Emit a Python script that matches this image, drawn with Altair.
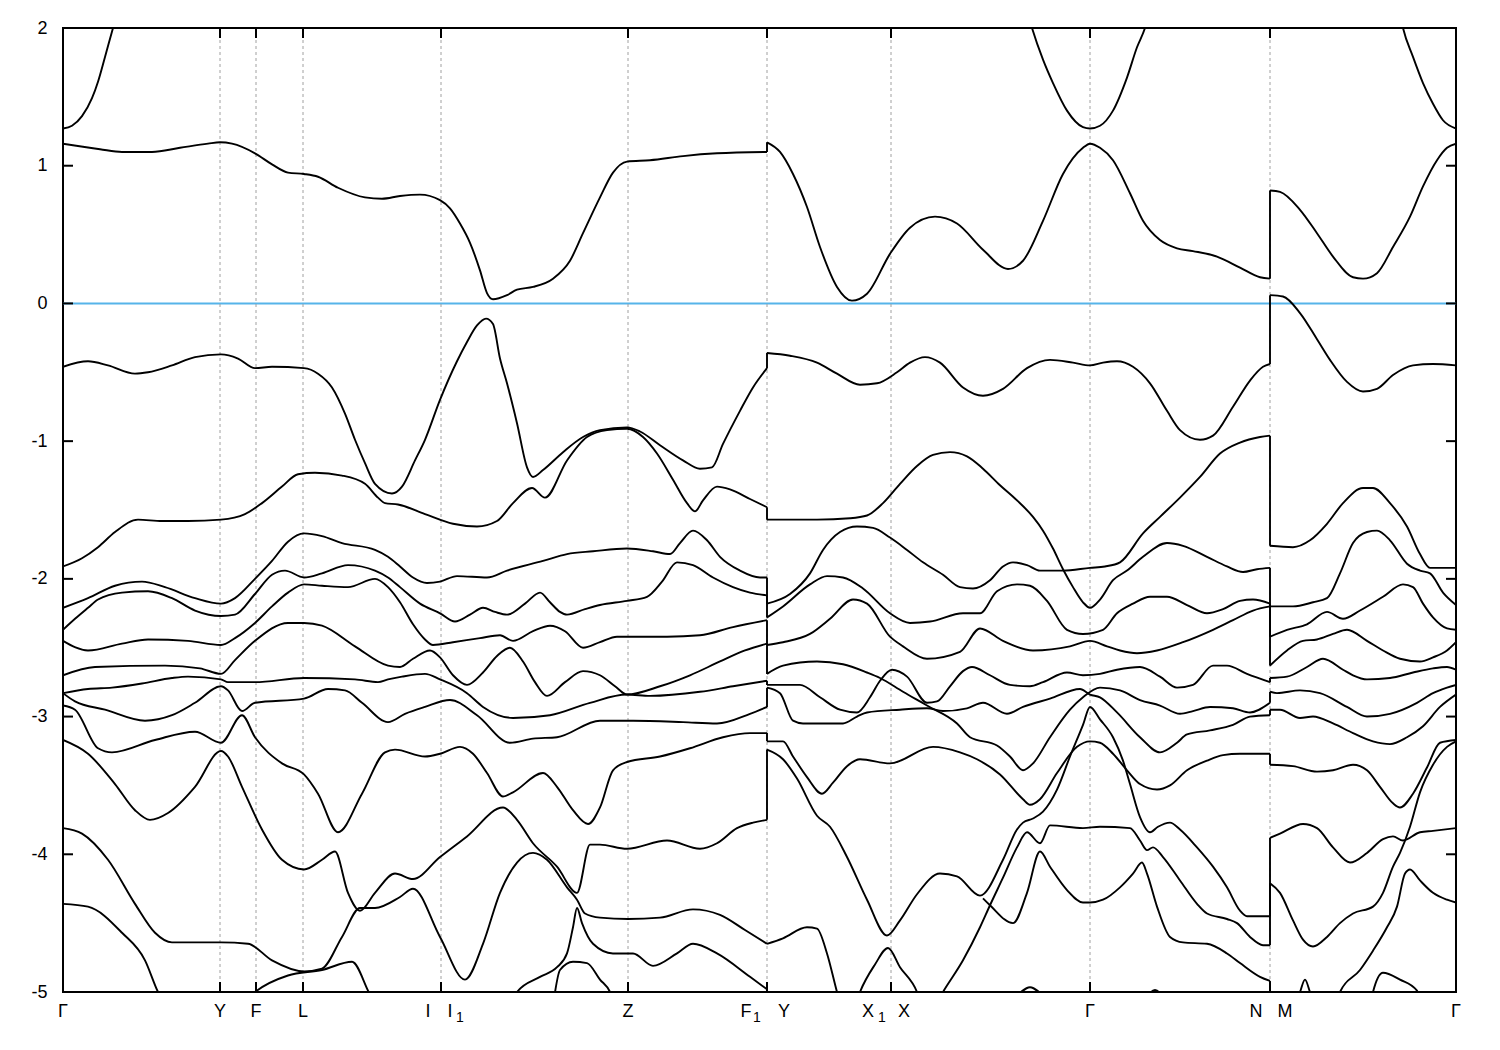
import altair as alt
import pandas as pd

W, H = 1393, 964
K_MAX = 13.93
E_MIN, E_MAX = -5, 2

HS_K = [0.0, 1.57, 1.93, 2.40, 3.78, 5.65, 7.04, 8.28, 10.27, 12.07, 13.93]
BREAKS = [7.04, 12.07]
Y_TICKS = [2, 1, 0, -1, -2, -3, -4, -5]

LBL_TEXT = ["Γ", "Y", "F", "L", "I", "I", "Z", "F", "Y", "X", "X", "Γ", "N", "M", "Γ"]
LBL_K = [0.0, 1.57, 1.93, 2.40, 3.65, 3.87, 5.65, 6.83, 7.21, 8.05, 8.41, 10.27, 11.93, 12.22, 13.93]
SUB_TEXT = ["1", "1", "1"]
SUB_K = [3.97, 6.94, 8.19]

# ---------------- segment Γ-Y-F-L-I|I1-Z-F1 ----------------
A_CB = [(0, 1.16), (0.37, 1.12), (0.59, 1.10), (0.89, 1.10), (1.17, 1.13), (1.45, 1.16), (1.57, 1.17), (1.69, 1.16),
        (1.92, 1.09), (2.09, 1.01), (2.25, 0.95), (2.41, 0.94), (2.55, 0.92), (2.75, 0.84), (3.02, 0.77), (3.19, 0.76),
        (3.37, 0.78), (3.57, 0.79), (3.77, 0.75), (3.87, 0.69), (3.97, 0.58), (4.07, 0.44), (4.17, 0.24), (4.24, 0.075),
        (4.30, 0.03), (4.44, 0.06), (4.54, 0.10), (4.70, 0.12), (4.90, 0.18), (5.07, 0.31), (5.20, 0.51), (5.37, 0.77),
        (5.50, 0.95), (5.64, 1.03), (5.87, 1.04), (6.20, 1.07), (6.54, 1.09), (7.04, 1.10)]
A_C1 = [(0, 1.27), (0.09, 1.29), (0.19, 1.36), (0.29, 1.49), (0.35, 1.61), (0.42, 1.79), (0.50, 2.0), (0.54, 2.1)]
A_VB1 = [(0, -0.46), (0.25, -0.42), (0.45, -0.45), (0.72, -0.51), (0.85, -0.50), (1.09, -0.45), (1.32, -0.39),
         (1.58, -0.37), (1.75, -0.40), (1.92, -0.47), (2.09, -0.46), (2.41, -0.47), (2.55, -0.51), (2.69, -0.61),
         (2.82, -0.80), (2.92, -0.99), (3.02, -1.16), (3.12, -1.31), (3.29, -1.38), (3.39, -1.33), (3.52, -1.14),
         (3.62, -0.99), (3.77, -0.70), (3.94, -0.42), (4.04, -0.28), (4.14, -0.16), (4.23, -0.11), (4.30, -0.15),
         (4.37, -0.40), (4.44, -0.58), (4.54, -0.87), (4.64, -1.19), (4.70, -1.26), (4.80, -1.21), (5.00, -1.08),
         (5.20, -0.97), (5.37, -0.92), (5.64, -0.90), (5.77, -0.93), (5.97, -1.03), (6.20, -1.14), (6.37, -1.20),
         (6.49, -1.19), (6.60, -1.02), (6.77, -0.78), (6.90, -0.61), (7.04, -0.47)]
A_VB2 = [(0, -1.91), (0.19, -1.85), (0.35, -1.77), (0.52, -1.66), (0.75, -1.57), (0.99, -1.58), (1.25, -1.58),
         (1.58, -1.57), (1.82, -1.53), (1.99, -1.45), (2.19, -1.33), (2.35, -1.24), (2.52, -1.23), (2.79, -1.25),
         (3.02, -1.31), (3.15, -1.41), (3.22, -1.45), (3.35, -1.46), (3.62, -1.53), (3.90, -1.60), (4.14, -1.62),
         (4.34, -1.58), (4.50, -1.45), (4.69, -1.34), (4.82, -1.41), (5.04, -1.14), (5.24, -0.97), (5.44, -0.92),
         (5.64, -0.91), (5.80, -0.97), (5.94, -1.09), (6.10, -1.28), (6.24, -1.45), (6.32, -1.51), (6.40, -1.43),
         (6.54, -1.33), (6.67, -1.35), (6.87, -1.42), (7.04, -1.48)]
A_3 = [(0, -2.21), (0.25, -2.14), (0.52, -2.05), (0.79, -2.02), (1.02, -2.06), (1.32, -2.14), (1.58, -2.18),
       (1.72, -2.14), (1.92, -2.00), (2.09, -1.87), (2.25, -1.73), (2.41, -1.67), (2.59, -1.69), (2.79, -1.74),
       (3.12, -1.79), (3.25, -1.84), (3.37, -1.91), (3.50, -1.99), (3.64, -2.03), (3.77, -2.02), (3.94, -1.98),
       (4.24, -1.99), (4.44, -1.94), (4.80, -1.87), (5.04, -1.82), (5.30, -1.80), (5.64, -1.78), (5.90, -1.80),
       (6.07, -1.82), (6.17, -1.74), (6.30, -1.65), (6.44, -1.72), (6.57, -1.84), (6.77, -1.94), (6.97, -1.99),
       (7.04, -1.99)]
A_4 = [(0, -2.37), (0.12, -2.29), (0.25, -2.21), (0.35, -2.15), (0.59, -2.10), (0.85, -2.09), (1.09, -2.14),
       (1.32, -2.23), (1.58, -2.27), (1.72, -2.26), (1.92, -2.11), (2.09, -1.97), (2.22, -1.94), (2.41, -1.99),
       (2.59, -1.96), (2.85, -1.90), (3.12, -1.94), (3.25, -1.99), (3.37, -2.06), (3.57, -2.18), (3.77, -2.25),
       (3.92, -2.31), (4.07, -2.26), (4.20, -2.21), (4.32, -2.24), (4.44, -2.26), (4.62, -2.18), (4.77, -2.10),
       (4.87, -2.17), (4.97, -2.24), (5.04, -2.26), (5.22, -2.22), (5.37, -2.19), (5.64, -2.16), (5.84, -2.13),
       (5.99, -2.02), (6.14, -1.88), (6.30, -1.90), (6.50, -1.99), (6.70, -2.06), (6.87, -2.10), (7.04, -2.12)]
A_5 = [(0, -2.45), (0.25, -2.52), (0.59, -2.47), (0.85, -2.44), (1.25, -2.45), (1.58, -2.48), (1.72, -2.43),
       (1.92, -2.32), (2.09, -2.20), (2.25, -2.10), (2.41, -2.04), (2.59, -2.05), (2.85, -2.06), (3.12, -2.00),
       (3.25, -2.06), (3.37, -2.17), (3.50, -2.33), (3.62, -2.44), (3.70, -2.48), (3.90, -2.46), (4.17, -2.43),
       (4.37, -2.41), (4.50, -2.45), (4.70, -2.38), (4.87, -2.34), (5.02, -2.38), (5.20, -2.50), (5.37, -2.46),
       (5.54, -2.42), (6.04, -2.42), (6.37, -2.41), (6.70, -2.35), (7.04, -2.30)]
A_6 = [(0, -2.70), (0.32, -2.64), (1.02, -2.63), (1.37, -2.65), (1.58, -2.69), (1.72, -2.59), (1.92, -2.45),
       (2.25, -2.32), (2.41, -2.32), (2.59, -2.34), (2.92, -2.49), (3.25, -2.63), (3.37, -2.64), (3.50, -2.58),
       (3.67, -2.52), (3.77, -2.57), (3.90, -2.70), (4.04, -2.77), (4.20, -2.68), (4.34, -2.56), (4.47, -2.50),
       (4.60, -2.60), (4.72, -2.75), (4.84, -2.85), (5.02, -2.75), (5.20, -2.67), (5.37, -2.70), (5.52, -2.78),
       (5.64, -2.84), (5.97, -2.78), (6.27, -2.70), (6.57, -2.60), (6.82, -2.52), (7.04, -2.47)]
A_7 = [(0, -2.83), (0.25, -2.80), (0.49, -2.79), (0.79, -2.76), (1.09, -2.72), (1.25, -2.71), (1.58, -2.73),
       (1.65, -2.75), (1.92, -2.75), (2.41, -2.72), (2.92, -2.73), (3.15, -2.75), (3.25, -2.73), (3.39, -2.71),
       (3.62, -2.69), (3.77, -2.73), (4.04, -2.83), (4.20, -2.93), (4.50, -3.01), (4.87, -2.99), (5.27, -2.90),
       (5.64, -2.84), (5.87, -2.85), (6.37, -2.82), (6.70, -2.78), (7.04, -2.74)]
A_8 = [(0, -2.83), (0.12, -2.89), (0.42, -2.95), (0.82, -3.03), (1.09, -2.99), (1.32, -2.90), (1.58, -2.78),
       (1.65, -2.81), (1.79, -2.96), (1.92, -2.90), (2.41, -2.87), (2.65, -2.80), (2.82, -2.81), (2.99, -2.90),
       (3.25, -3.04), (3.42, -2.98), (3.62, -2.93), (3.87, -2.88), (4.14, -2.99), (4.47, -3.19), (4.70, -3.16),
       (4.94, -3.15), (5.37, -3.03), (5.70, -3.03), (6.20, -3.04), (6.54, -3.05), (6.87, -2.98), (7.04, -2.93)]
A_9 = [(0, -2.92), (0.12, -2.95), (0.35, -3.23), (0.49, -3.26), (0.92, -3.17), (1.32, -3.11), (1.58, -3.19),
       (1.79, -2.99), (1.92, -3.15), (2.19, -3.34), (2.41, -3.42), (2.55, -3.56), (2.75, -3.84), (2.99, -3.56),
       (3.22, -3.26), (3.32, -3.24), (3.62, -3.29), (3.77, -3.27), (3.97, -3.22), (4.10, -3.27), (4.24, -3.41),
       (4.40, -3.58), (4.50, -3.55), (4.80, -3.41), (4.94, -3.51), (5.10, -3.68), (5.25, -3.78), (5.37, -3.66),
       (5.50, -3.39), (5.64, -3.33), (5.97, -3.29), (6.27, -3.23), (6.60, -3.15), (6.87, -3.12), (7.04, -3.12)]
A_10 = [(0, -3.17), (0.25, -3.27), (0.52, -3.49), (0.72, -3.68), (0.87, -3.75), (1.05, -3.70), (1.32, -3.51),
        (1.58, -3.25), (1.65, -3.29), (1.79, -3.51), (1.99, -3.82), (2.19, -4.04), (2.41, -4.11), (2.59, -4.04),
        (2.72, -3.98), (2.85, -4.28), (2.97, -4.41), (3.12, -4.28), (3.32, -4.14), (3.50, -4.18), (3.77, -4.02),
        (4.04, -3.87), (4.40, -3.66), (4.54, -3.75), (4.70, -3.92), (4.94, -4.09), (5.14, -4.28), (5.27, -3.93),
        (5.37, -3.93), (5.64, -3.96), (6.04, -3.90), (6.37, -3.96), (6.54, -3.92), (6.74, -3.81), (6.90, -3.77),
        (7.04, -3.75)]
A_11 = [(0, -3.81), (0.19, -3.85), (0.45, -4.04), (0.72, -4.36), (0.92, -4.57), (1.09, -4.64), (1.58, -4.64),
        (1.85, -4.65), (2.09, -4.77), (2.41, -4.85), (2.59, -4.83), (2.79, -4.60), (2.97, -4.39), (3.12, -4.39),
        (3.37, -4.31), (3.50, -4.25), (3.77, -4.60), (4.02, -4.91), (4.20, -4.65), (4.37, -4.28), (4.54, -4.06),
        (4.70, -3.99), (4.84, -4.04), (5.04, -4.24), (5.14, -4.33), (5.22, -4.43), (5.37, -4.46), (5.65, -4.47),
        (5.97, -4.46), (6.30, -4.40), (6.57, -4.44), (6.82, -4.55), (7.04, -4.65)]
A_12 = [(0, -4.36), (0.25, -4.38), (0.59, -4.57), (0.82, -4.77), (0.95, -5.0), (1.07, -5.15)]
A_13 = [(1.77, -5.1), (1.92, -5.0), (2.25, -4.88), (2.59, -4.84), (2.89, -4.78), (3.05, -4.99), (3.12, -5.1)]
A_14 = [(4.47, -5.1), (4.54, -5.0), (4.77, -4.89), (4.94, -4.82), (5.04, -4.72), (5.10, -4.53), (5.14, -4.39),
        (5.19, -4.50), (5.30, -4.65), (5.50, -4.72), (5.70, -4.72), (5.90, -4.81), (6.14, -4.72), (6.30, -4.65),
        (6.54, -4.72), (6.87, -4.89), (7.04, -4.98)]
A_15 = [(4.90, -5.1), (4.97, -4.84), (5.10, -4.78), (5.24, -4.79), (5.37, -4.91), (5.47, -5.0), (5.52, -5.1)]

# ---------------- segment Y-X1|X-Γ-N ----------------
B_CB = [(7.04, 1.17), (7.17, 1.10), (7.30, 0.94), (7.44, 0.70), (7.57, 0.41), (7.74, 0.12), (7.89, 0.02),
        (8.04, 0.07), (8.27, 0.36), (8.47, 0.55), (8.72, 0.63), (8.94, 0.58), (9.20, 0.39), (9.45, 0.25),
        (9.60, 0.31), (9.80, 0.60), (10.00, 0.94), (10.20, 1.13), (10.27, 1.16), (10.37, 1.13), (10.50, 1.04),
        (10.67, 0.80), (10.80, 0.60), (10.97, 0.46), (11.14, 0.40), (11.30, 0.38), (11.54, 0.34), (11.77, 0.26),
        (11.97, 0.19), (12.07, 0.18)]
B_C1 = [(9.65, 2.1), (9.69, 2.0), (9.80, 1.77), (9.90, 1.60), (10.04, 1.40), (10.20, 1.28), (10.27, 1.27),
        (10.37, 1.29), (10.50, 1.40), (10.64, 1.64), (10.74, 1.86), (10.82, 2.0), (10.86, 2.1)]
B_VB1 = [(7.04, -0.36), (7.27, -0.38), (7.54, -0.43), (7.74, -0.51), (7.97, -0.59), (8.14, -0.58), (8.34, -0.50),
         (8.47, -0.43), (8.62, -0.39), (8.77, -0.43), (9.00, -0.61), (9.20, -0.67), (9.40, -0.62), (9.64, -0.47),
         (9.87, -0.41), (10.10, -0.43), (10.27, -0.45), (10.40, -0.43), (10.54, -0.42), (10.70, -0.46),
         (10.87, -0.58), (11.04, -0.78), (11.17, -0.92), (11.37, -0.99), (11.50, -0.96), (11.70, -0.75),
         (11.87, -0.56), (12.00, -0.46), (12.07, -0.44)]
B_VB2 = [(7.04, -1.57), (7.20, -1.57), (7.54, -1.57), (7.87, -1.56), (8.04, -1.54), (8.20, -1.45), (8.37, -1.31),
         (8.54, -1.18), (8.70, -1.10), (8.87, -1.08), (9.04, -1.11), (9.20, -1.20), (9.37, -1.32), (9.54, -1.43),
         (9.70, -1.55), (9.80, -1.65), (9.90, -1.78), (10.00, -1.93), (10.10, -2.06), (10.20, -2.17),
         (10.27, -2.21), (10.37, -2.15), (10.50, -2.01), (10.64, -1.94), (10.80, -1.84), (11.04, -1.74),
         (11.20, -1.76), (11.44, -1.84), (11.64, -1.91), (11.80, -1.95), (11.94, -1.93), (12.07, -1.92)]
B_VB3 = [(7.04, -2.18), (7.27, -2.11), (7.47, -1.96), (7.60, -1.79), (7.77, -1.66), (7.94, -1.62), (8.10, -1.63),
         (8.27, -1.70), (8.44, -1.79), (8.60, -1.88), (8.80, -1.97), (8.97, -2.06), (9.10, -2.07), (9.27, -2.01),
         (9.40, -1.91), (9.50, -1.88), (9.64, -1.90), (9.77, -1.94), (10.00, -1.94), (10.27, -1.92),
         (10.42, -1.91), (10.57, -1.88), (10.80, -1.67), (10.97, -1.55), (11.17, -1.41), (11.37, -1.26),
         (11.57, -1.09), (11.77, -1.01), (11.97, -0.97), (12.07, -0.96)]
B_4 = [(7.04, -2.28), (7.20, -2.20), (7.47, -2.04), (7.64, -1.98), (7.80, -1.99), (8.00, -2.07), (8.27, -2.25),
       (8.47, -2.32), (8.67, -2.31), (9.00, -2.25), (9.17, -2.25), (9.34, -2.09), (9.54, -2.04), (9.67, -2.05),
       (9.84, -2.16), (10.04, -2.37), (10.20, -2.40), (10.40, -2.37), (10.54, -2.25), (10.70, -2.18),
       (10.87, -2.13), (11.04, -2.13), (11.24, -2.19), (11.44, -2.25), (11.60, -2.22), (11.77, -2.16),
       (11.90, -2.15), (12.07, -2.18)]
B_5 = [(7.04, -2.48), (7.20, -2.46), (7.47, -2.40), (7.67, -2.29), (7.90, -2.15), (8.04, -2.18), (8.27, -2.42),
       (8.40, -2.49), (8.64, -2.58), (8.97, -2.53), (9.17, -2.36), (9.40, -2.45), (9.70, -2.52), (10.07, -2.49),
       (10.27, -2.45), (10.44, -2.49), (10.57, -2.52), (10.74, -2.54), (10.94, -2.52), (11.20, -2.46),
       (11.50, -2.37), (11.70, -2.30), (11.90, -2.23), (12.07, -2.20)]
B_6 = [(7.04, -2.69), (7.20, -2.63), (7.54, -2.60), (7.80, -2.62), (8.04, -2.68), (8.17, -2.72), (8.40, -2.82),
       (8.64, -2.92), (8.94, -3.05), (9.07, -3.15), (9.34, -3.21), (9.47, -3.29), (9.60, -3.39), (9.70, -3.34),
       (9.87, -3.15), (10.07, -2.95), (10.20, -2.86), (10.37, -2.79), (10.57, -2.81), (10.77, -2.88),
       (10.97, -2.92), (11.17, -2.98), (11.30, -2.96), (11.47, -2.93), (11.70, -2.94), (11.87, -2.97),
       (12.07, -2.90)]
B_7 = [(7.04, -2.77), (7.37, -2.77), (7.57, -2.86), (7.77, -2.95), (7.94, -2.97), (8.07, -2.86), (8.17, -2.74),
       (8.29, -2.66), (8.44, -2.71), (8.64, -2.90), (8.74, -2.89), (8.87, -2.78), (9.00, -2.67), (9.09, -2.64),
       (9.27, -2.70), (9.47, -2.77), (9.67, -2.78), (9.80, -2.75), (10.04, -2.68), (10.20, -2.70),
       (10.37, -2.69), (10.54, -2.66), (10.77, -2.64), (10.97, -2.71), (11.14, -2.79), (11.30, -2.77),
       (11.50, -2.63), (11.64, -2.63), (11.84, -2.69), (12.07, -2.75)]
B_8 = [(7.04, -2.79), (7.17, -2.83), (7.30, -3.03), (7.40, -3.05), (7.80, -3.05), (7.94, -3.00), (8.04, -2.97),
       (8.37, -2.95), (8.64, -2.94), (8.80, -2.96), (9.04, -2.94), (9.20, -2.90), (9.44, -2.98), (9.60, -2.93),
       (9.87, -2.87), (10.17, -2.80), (10.27, -2.84), (10.37, -2.86), (10.54, -2.97), (10.77, -3.15),
       (10.97, -3.26), (11.14, -3.19), (11.24, -3.13), (11.47, -3.10), (11.70, -3.06), (11.87, -3.00),
       (12.07, -2.99)]
B_9 = [(7.04, -3.18), (7.20, -3.18), (7.30, -3.29), (7.44, -3.44), (7.59, -3.56), (7.70, -3.48), (7.84, -3.36),
       (7.97, -3.31), (8.27, -3.34), (8.70, -3.22), (8.97, -3.26), (9.14, -3.31), (9.37, -3.42), (9.60, -3.60),
       (9.67, -3.64), (9.77, -3.60), (9.94, -3.41), (10.14, -3.22), (10.27, -3.18), (10.37, -3.19),
       (10.50, -3.27), (10.64, -3.39), (10.77, -3.49), (10.94, -3.53), (11.07, -3.50), (11.24, -3.39),
       (11.44, -3.32), (11.60, -3.28), (11.77, -3.27), (12.07, -3.27)]
B_10 = [(7.04, -3.24), (7.20, -3.31), (7.34, -3.45), (7.54, -3.72), (7.67, -3.80), (7.84, -4.02), (8.04, -4.33),
        (8.24, -4.59), (8.37, -4.48), (8.54, -4.29), (8.77, -4.14), (8.94, -4.16), (9.17, -4.30), (9.40, -4.04),
        (9.54, -3.82), (9.60, -3.77), (9.70, -3.74), (9.80, -3.69), (9.94, -3.53), (10.07, -3.29), (10.20, -3.06),
        (10.27, -2.93), (10.37, -3.02), (10.50, -3.15), (10.60, -3.32), (10.67, -3.49), (10.77, -3.73),
        (10.87, -3.84), (10.95, -3.80), (11.07, -3.77), (11.17, -3.82), (11.34, -3.95), (11.50, -4.09),
        (11.64, -4.24), (11.77, -4.41), (11.84, -4.45), (12.07, -4.45)]
B_11 = [(7.04, -4.65), (7.20, -4.61), (7.44, -4.53), (7.54, -4.54), (7.64, -4.72), (7.74, -5.0), (7.82, -5.2)]
B_12 = [(7.92, -5.1), (7.97, -5.0), (8.12, -4.80), (8.25, -4.68), (8.37, -4.82), (8.54, -5.0), (8.59, -5.1)]
B_13 = [(8.72, -5.1), (8.80, -5.0), (9.00, -4.77), (9.17, -4.53), (9.27, -4.37), (9.40, -4.17), (9.54, -3.95),
        (9.64, -3.84), (9.77, -3.92), (9.87, -3.79), (10.20, -3.81), (10.37, -3.80), (10.67, -3.81),
        (10.77, -3.90), (10.84, -3.97), (10.90, -3.95), (11.00, -4.02), (11.17, -4.19), (11.34, -4.36),
        (11.44, -4.43), (11.64, -4.47), (11.74, -4.50), (11.87, -4.60), (12.00, -4.66), (12.07, -4.66)]
B_14 = [(9.20, -4.32), (9.27, -4.37), (9.50, -4.50), (9.64, -4.28), (9.77, -3.98), (9.87, -4.09), (10.04, -4.26),
        (10.20, -4.35), (10.27, -4.35), (10.40, -4.33), (10.57, -4.24), (10.70, -4.14), (10.79, -4.06),
        (10.84, -4.14), (10.94, -4.38), (11.07, -4.60), (11.20, -4.64), (11.44, -4.65), (11.64, -4.72),
        (11.77, -4.79), (11.97, -4.89), (12.07, -4.92)]
B_15 = [(10.82, -5.05), (10.92, -4.985), (11.02, -5.05)]
B_16 = [(9.52, -5.05), (9.67, -4.965), (9.82, -5.05)]
B_17 = [(7.04, -5.15), (7.15, -5.3)]

# ---------------- segment M-Γ ----------------
C_CB = [(12.07, 0.82), (12.17, 0.81), (12.37, 0.68), (12.54, 0.51), (12.70, 0.34), (12.90, 0.19), (13.00, 0.18),
        (13.14, 0.22), (13.30, 0.41), (13.47, 0.63), (13.60, 0.85), (13.74, 1.04), (13.84, 1.13), (13.93, 1.16)]
C_C1 = [(13.37, 2.1), (13.40, 2.0), (13.50, 1.79), (13.60, 1.60), (13.70, 1.45), (13.80, 1.33), (13.93, 1.27)]
C_VB1 = [(12.07, 0.06), (12.20, 0.05), (12.37, -0.07), (12.54, -0.26), (12.67, -0.41), (12.84, -0.57),
         (13.00, -0.64), (13.14, -0.62), (13.30, -0.52), (13.50, -0.45), (13.70, -0.44), (13.93, -0.45)]
C_VB2 = [(12.07, -1.76), (12.30, -1.77), (12.47, -1.72), (12.64, -1.60), (12.80, -1.45), (13.00, -1.34),
         (13.10, -1.34), (13.27, -1.45), (13.44, -1.62), (13.57, -1.82), (13.67, -1.92), (13.93, -1.92)]
C_3 = [(12.07, -2.20), (12.30, -2.20), (12.50, -2.17), (12.64, -2.14), (12.77, -1.96), (12.90, -1.74),
       (13.04, -1.66), (13.14, -1.65), (13.27, -1.72), (13.44, -1.89), (13.57, -1.94), (13.67, -1.96),
       (13.80, -2.10), (13.93, -2.19)]
C_4 = [(12.07, -2.42), (12.24, -2.37), (12.44, -2.33), (12.64, -2.24), (12.80, -2.29), (12.97, -2.23),
       (13.20, -2.13), (13.40, -2.04), (13.50, -2.06), (13.60, -2.18), (13.70, -2.28), (13.84, -2.36),
       (13.93, -2.37)]
C_5 = [(12.07, -2.63), (12.24, -2.52), (12.40, -2.45), (12.54, -2.44), (12.70, -2.40), (12.84, -2.37),
       (13.04, -2.45), (13.20, -2.52), (13.37, -2.58), (13.57, -2.60), (13.70, -2.57), (13.84, -2.52),
       (13.93, -2.46)]
C_6 = [(12.07, -2.72), (12.24, -2.71), (12.44, -2.64), (12.60, -2.58), (12.80, -2.66), (12.90, -2.70),
       (13.04, -2.73), (13.27, -2.72), (13.50, -2.68), (13.70, -2.65), (13.84, -2.64), (13.93, -2.66)]
C_7 = [(12.07, -2.82), (12.14, -2.83), (12.37, -2.81), (12.57, -2.83), (12.84, -2.93), (13.04, -3.00),
       (13.27, -2.98), (13.54, -2.90), (13.70, -2.83), (13.84, -2.79), (13.93, -2.77)]
C_8 = [(12.07, -2.95), (12.17, -2.95), (12.37, -3.01), (12.50, -3.00), (12.70, -3.05), (12.90, -3.12),
       (13.10, -3.18), (13.27, -3.20), (13.44, -3.15), (13.60, -3.07), (13.77, -2.93), (13.93, -2.84)]
C_9 = [(12.07, -3.35), (12.30, -3.36), (12.54, -3.40), (12.70, -3.39), (12.90, -3.35), (13.04, -3.39),
       (13.17, -3.51), (13.30, -3.63), (13.37, -3.66), (13.50, -3.56), (13.64, -3.37), (13.77, -3.19),
       (13.93, -3.17)]
C_10 = [(12.07, -3.88), (12.17, -3.85), (12.40, -3.78), (12.54, -3.81), (12.70, -3.95), (12.87, -4.06),
        (13.04, -3.99), (13.20, -3.89), (13.30, -3.87), (13.40, -3.90), (13.57, -3.84), (13.70, -3.83),
        (13.93, -3.81)]
C_11 = [(12.07, -4.21), (12.17, -4.28), (12.30, -4.48), (12.40, -4.62), (12.50, -4.67), (12.64, -4.60),
        (12.77, -4.50), (12.90, -4.43), (13.10, -4.38), (13.20, -4.28), (13.30, -4.09), (13.37, -3.99),
        (13.47, -3.80), (13.57, -3.55), (13.70, -3.35), (13.84, -3.22), (13.93, -3.18)]
C_12 = [(12.72, -5.1), (12.77, -5.0), (12.97, -4.84), (13.10, -4.70), (13.24, -4.53), (13.34, -4.38),
        (13.42, -4.14), (13.47, -4.11), (13.57, -4.19), (13.70, -4.28), (13.84, -4.33), (13.93, -4.35)]
C_13 = [(12.32, -5.1), (12.37, -5.0), (12.42, -4.91), (12.47, -5.0), (12.52, -5.1)]
C_14 = [(13.07, -5.1), (13.10, -5.0), (13.20, -4.86), (13.37, -4.91), (13.54, -4.99), (13.57, -5.1)]
C_15 = [(12.07, -5.15), (12.20, -5.3)]

SEG_A = {"A_CB": A_CB, "A_C1": A_C1, "A_VB1": A_VB1, "A_VB2": A_VB2, "A_3": A_3, "A_4": A_4, "A_5": A_5,
         "A_6": A_6, "A_7": A_7, "A_8": A_8, "A_9": A_9, "A_10": A_10, "A_11": A_11, "A_12": A_12,
         "A_13": A_13, "A_14": A_14, "A_15": A_15}
SEG_B = {"B_CB": B_CB, "B_C1": B_C1, "B_VB1": B_VB1, "B_VB2": B_VB2, "B_VB3": B_VB3, "B_4": B_4, "B_5": B_5,
         "B_6": B_6, "B_7": B_7, "B_8": B_8, "B_9": B_9, "B_10": B_10, "B_11": B_11, "B_12": B_12,
         "B_13": B_13, "B_14": B_14, "B_15": B_15, "B_16": B_16, "B_17": B_17}
SEG_C = {"C_CB": C_CB, "C_C1": C_C1, "C_VB1": C_VB1, "C_VB2": C_VB2, "C_3": C_3, "C_4": C_4, "C_5": C_5,
         "C_6": C_6, "C_7": C_7, "C_8": C_8, "C_9": C_9, "C_10": C_10, "C_11": C_11, "C_12": C_12,
         "C_13": C_13, "C_14": C_14, "C_15": C_15}
SEGMENTS = [SEG_A, SEG_B, SEG_C]

rows = []
for seg in SEGMENTS:
    for name, pts in seg.items():
        for k, e in pts:
            rows.append({"curve": name, "k": k, "E": e})
bands_df = pd.DataFrame(rows)

# vertical connections where the k-path jumps: bands joined in energy order
jrows = []
for i, kb in enumerate(BREAKS):
    ends = sorted([p[-1][1] for p in SEGMENTS[i].values() if abs(p[-1][0] - kb) < 1e-9], reverse=True)
    starts = sorted([p[0][1] for p in SEGMENTS[i + 1].values() if abs(p[0][0] - kb) < 1e-9], reverse=True)
    for e0, e1 in zip(ends, starts):
        jrows.append({"k": kb, "E": e0, "E2": e1})
jump_df = pd.DataFrame(jrows)

xs = alt.Scale(domain=[0, K_MAX], nice=False, zero=False)
ys = alt.Scale(domain=[E_MIN, E_MAX], nice=False, zero=False)
FONT = "Liberation Sans"

yaxis = alt.Axis(values=Y_TICKS, labelExpr="'' + datum.value", labelFont=FONT, labelFontSize=18,
                 labelColor="black", ticks=False, domain=False, grid=False, title=None, labelPadding=16)


def X():
    return alt.X("k:Q", scale=xs, axis=None)


def Y():
    return alt.Y("E:Q", scale=ys, axis=yaxis, title=None)


inner_k = pd.DataFrame({"k": HS_K[1:-1]})

vlines = alt.Chart(inner_k).mark_rule(color="#a0a0a0", strokeWidth=1, strokeDash=[3, 3]).encode(x=X())

zero = alt.Chart(pd.DataFrame({"E": [0]})).mark_rule(color="#56B4E9", strokeWidth=2).encode(y=Y())

bands = alt.Chart(bands_df).mark_line(color="black", strokeWidth=1.9, interpolate="monotone", clip=True).encode(
    x=X(), y=Y(), detail="curve:N")

jumps = alt.Chart(jump_df).mark_rule(color="black", strokeWidth=1.9, clip=True).encode(
    x=X(), y=Y(), y2="E2:Q")

ytick_df = pd.DataFrame({"E": Y_TICKS})
ticks_l = alt.Chart(ytick_df).mark_rule(color="black", strokeWidth=2).encode(
    y=Y(), x=alt.value(0), x2=alt.value(10))
ticks_r = alt.Chart(ytick_df).mark_rule(color="black", strokeWidth=2).encode(
    y=Y(), x=alt.value(W - 10), x2=alt.value(W))
ticks_t = alt.Chart(inner_k).mark_rule(color="black", strokeWidth=2).encode(
    x=X(), y=alt.value(0), y2=alt.value(10))
ticks_b = alt.Chart(inner_k).mark_rule(color="black", strokeWidth=2).encode(
    x=X(), y=alt.value(H - 10), y2=alt.value(H))

labels = alt.Chart(pd.DataFrame({"k": LBL_K, "t": LBL_TEXT})).mark_text(
    font=FONT, fontSize=18, color="black", baseline="middle", align="center").encode(
    x=X(), y=alt.value(H + 20), text="t:N")
subs = alt.Chart(pd.DataFrame({"k": SUB_K, "t": SUB_TEXT})).mark_text(
    font=FONT, fontSize=14, color="black", baseline="middle", align="center").encode(
    x=X(), y=alt.value(H + 26), text="t:N")

chart = alt.layer(zero, vlines, bands, jumps, ticks_l, ticks_r, ticks_t, ticks_b, labels, subs).properties(
    width=W, height=H,
    padding={"left": 55, "top": 20, "right": 36, "bottom": 50},
    autosize=alt.AutoSizeParams(type="none"),
).configure_view(stroke="black", strokeWidth=2)

chart.save("out.html", embed_options={"renderer": "svg", "actions": False})
